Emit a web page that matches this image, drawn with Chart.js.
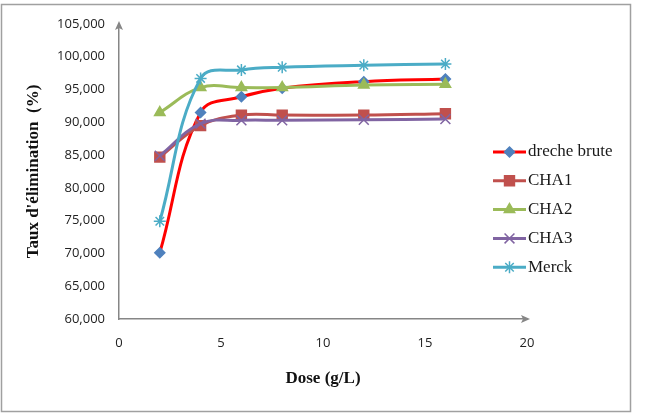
<!DOCTYPE html>
<html>
<head>
<meta charset="utf-8">
<script src="https://cdn.jsdelivr.net/npm/chart.js@4/dist/chart.umd.min.js"></script>
<style>
  html, body { margin: 0; padding: 0; background: #fff; }
  #wrap { position: relative; width: 647px; height: 417px; }
</style>
</head>
<body>
<div id="wrap"><canvas id="chart" width="647" height="417"></canvas></div>
<script>
// données
const doses = [2, 4, 6, 8, 12, 16];
const drecheBrute = [70.1, 91.5, 93.9, 95.2, 96.2, 96.6];
const cha1 = [84.7, 89.5, 91.1, 91.1, 91.1, 91.3];
const cha2 = [91.5, 95.3, 95.3, 95.3, 95.7, 95.8];
const cha3 = [84.9, 89.8, 90.3, 90.3, 90.4, 90.5];
const merck = [74.9, 96.7, 98.0, 98.4, 98.7, 98.9];

const seriesNames = ['dreche brute', 'CHA1', 'CHA2', 'CHA3', 'Merck'];
const xTitle = 'Dose (g/L)';
const yTitle = "Taux d'élimination  (%)";

function toPoints(values) {
    return doses.map((d, i) => ({ x: d, y: values[i] }));
}

// bordure, flèches des axes et légende dessinées à la main (style Excel)
const excelDecor = {
    id: 'excelDecor',
    beforeDraw(chart) {
        const ctx = chart.ctx;
        ctx.save();
        ctx.fillStyle = '#fff';
        ctx.fillRect(0, 0, chart.width, chart.height);
        ctx.strokeStyle = '#a0a0a0';
        ctx.lineWidth = 1.5;
        ctx.strokeRect(1.5, 4.5, 629, 407);
        ctx.restore();
    },
    afterDraw(chart) {
        const ctx = chart.ctx;
        const area = chart.chartArea;
        ctx.save();
        ctx.fillStyle = '#868686';
        // flèche haut
        ctx.beginPath();
        ctx.moveTo(area.left, area.top - 3);
        ctx.lineTo(area.left - 4, area.top + 6);
        ctx.lineTo(area.left, area.top + 4);
        ctx.lineTo(area.left + 4, area.top + 6);
        ctx.closePath();
        ctx.fill();
        // flèche droite
        ctx.beginPath();
        ctx.moveTo(area.right + 3, area.bottom);
        ctx.lineTo(area.right - 6, area.bottom - 4);
        ctx.lineTo(area.right - 4, area.bottom);
        ctx.lineTo(area.right - 6, area.bottom + 4);
        ctx.closePath();
        ctx.fill();

        // légende
        chart.data.datasets.forEach((ds, i) => {
            const y = 152 + i * 28.8;
            ctx.strokeStyle = ds.borderColor;
            ctx.lineWidth = 3;
            ctx.beginPath();
            ctx.moveTo(493, y);
            ctx.lineTo(526, y);
            ctx.stroke();
            ctx.fillStyle = ds.pointBackgroundColor;
            ctx.strokeStyle = ds.pointBorderColor;
            ctx.lineWidth = ds.pointBorderWidth;
            Chart.helpers.drawPoint(ctx, {
                pointStyle: ds.pointStyle,
                radius: ds.pointRadius,
                rotation: 0,
                borderWidth: ds.pointBorderWidth
            }, 509.5, y);
            ctx.fillStyle = '#1a1a1a';
            ctx.font = '17px "Liberation Serif", serif';
            ctx.textAlign = 'left';
            ctx.textBaseline = 'middle';
            ctx.fillText(ds.label, 528, y);
        });
        ctx.restore();
    }
};

const styles = [
    { line: '#ff0000', mark: '#4f81bd', shape: 'rectRot', r: 5 },
    { line: '#c0504d', mark: '#c0504d', shape: 'rect', r: 7 },
    { line: '#9bbb59', mark: '#9bbb59', shape: 'triangle', r: 6 },
    { line: '#8064a2', mark: '#8064a2', shape: 'crossRot', r: 7 },
    { line: '#4bacc6', mark: '#4bacc6', shape: 'star', r: 6 }
];
const allValues = [drecheBrute, cha1, cha2, cha3, merck];

const datasets = allValues.map((vals, i) => ({
    label: seriesNames[i],
    data: toPoints(vals),
    borderColor: styles[i].line,
    borderWidth: 3,
    pointStyle: styles[i].shape,
    pointRadius: styles[i].r,
    pointHoverRadius: styles[i].r,
    pointBackgroundColor: styles[i].mark,
    pointBorderColor: styles[i].mark,
    pointBorderWidth: 1.5,
    tension: 0.4,
    fill: false,
    order: 5 - i // la dernière série par-dessus, comme Excel
}));

new Chart(document.getElementById('chart'), {
    type: 'line',
    data: { datasets: datasets },
    options: {
        responsive: false,
        animation: false,
        layout: { padding: { top: 24, right: 120, bottom: 0, left: 0 } },
        plugins: {
            legend: { display: false },
            tooltip: { enabled: false }
        },
        scales: {
            x: {
                type: 'linear',
                min: 0,
                max: 20,
                ticks: {
                    stepSize: 5,
                    padding: 16,
                    color: '#222',
                    font: { family: '"Open Sans", sans-serif', size: 13 }
                },
                grid: { display: false, drawTicks: false },
                border: { display: true, color: '#868686', width: 1.5 },
                title: {
                    display: true,
                    text: xTitle,
                    color: '#111',
                    font: { family: '"Liberation Serif", serif', size: 17, weight: 'bold' },
                    padding: { top: 0, bottom: 28 }
                },
                afterFit(scale) { scale.height = 98; }
            },
            y: {
                min: 60,
                max: 105,
                ticks: {
                    stepSize: 5,
                    padding: 14,
                    color: '#222',
                    font: { family: '"Open Sans", sans-serif', size: 13 },
                    callback: (v) => v.toFixed(3).replace('.', ',')
                },
                grid: { display: false, drawTicks: false },
                border: { display: true, color: '#868686', width: 1.5 },
                title: {
                    display: true,
                    text: yTitle,
                    color: '#111',
                    font: { family: '"Liberation Serif", serif', size: 17, weight: 'bold' },
                    padding: { top: 23, bottom: 0 }
                },
                afterFit(scale) { scale.width = 119; }
            }
        }
    },
    plugins: [excelDecor]
});
</script>
</body>
</html>
